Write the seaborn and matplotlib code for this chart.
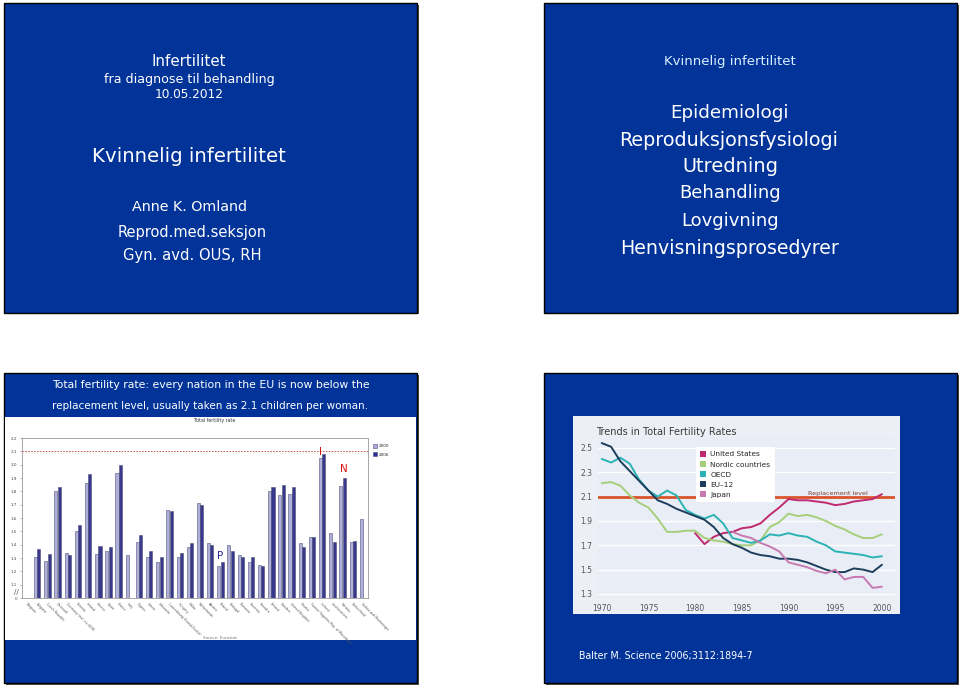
import numpy as np
import pandas as pd
import matplotlib
matplotlib.use("Agg")
import matplotlib.pyplot as plt
import seaborn as sns
from matplotlib.patches import Rectangle, Patch

sns.set_theme(style="white")
plt.rcParams["font.family"] = ["DejaVu Sans"]

# ---------------- data: bar chart (Eurostat total fertility rate) ----------------
countries = ["Belgium", "Bulgaria", "Czech Republic", "Denmark",
             "Germany (incl. ex-GDR)", "Estonia", "Ireland", "Greece",
             "Spain", "France", "Italy", "Cyprus", "Latvia", "Lithuania",
             "Luxembourg (Grand-Duché)", "Hungary", "Malta", "Netherlands", "Austria",
             "Poland", "Portugal", "Romania", "Slovenia", "Slovakia", "Finland",
             "Sweden", "United Kingdom", "Croatia",
             "Former Yugoslav Rep. of Macedonia", "Iceland", "Liechtenstein",
             "Norway", "Switzerland", "Serbia and Montenegro"]
tfr_2000 = [np.nan, 1.31, 1.28, 1.80, 1.34, 1.50, 1.86, 1.33, 1.35, 1.94, 1.32, 1.42,
            1.31, 1.27, 1.66, 1.31, 1.38, 1.71, 1.41, 1.24, 1.40, 1.32, 1.27, 1.25,
            1.80, 1.77, 1.78, 1.41, 1.46, 2.05, 1.49, 1.84, 1.42, 1.59]
tfr_2006 = [np.nan, 1.37, 1.33, 1.83, 1.32, 1.55, 1.93, 1.39, 1.38, 2.00, np.nan, 1.47,
            1.35, 1.31, 1.65, 1.34, 1.41, 1.70, 1.40, 1.27, 1.35, 1.31, 1.31, 1.24,
            1.83, 1.85, 1.83, 1.38, 1.46, 2.08, 1.42, 1.90, 1.43, np.nan]
bar_years = ["2000", "2006"]
bar_yticks = [1.0, 1.1, 1.2, 1.3, 1.4, 1.5, 1.6, 1.7, 1.8, 1.9, 2.0, 2.1, 2.2]
bar_yticklabels = ["0", "1.1", "1.2", "1.3", "1.4", "1.5", "1.6", "1.7", "1.8",
                   "1.9", "2.0", "2.1", "2.2"]
replacement = 2.1

# ---------------- data: line chart (Trends in Total Fertility Rates) ----------------
years = list(range(1970, 2001))
series_names = ["United States", "Nordic countries", "OECD", "EU\u201312", "Japan"]
us = [np.nan] * 10 + [1.80, 1.71, 1.77, 1.80, 1.81, 1.84, 1.85, 1.88, 1.95, 2.01, 2.08,
                      2.07, 2.07, 2.06, 2.05, 2.03, 2.04, 2.06, 2.07, 2.08, 2.12]
nordic = [2.21, 2.22, 2.19, 2.11, 2.05, 2.01, 1.92, 1.81, 1.81, 1.82, 1.82, 1.76, 1.74,
          1.73, 1.71, 1.70, 1.70, 1.74, 1.85, 1.89, 1.96, 1.94, 1.95, 1.93, 1.90, 1.86,
          1.83, 1.79, 1.76, 1.76, 1.79]
oecd = [2.41, 2.38, 2.42, 2.37, 2.24, 2.15, 2.10, 2.15, 2.11, 1.99, 1.95, 1.92, 1.95,
        1.88, 1.76, 1.74, 1.72, 1.74, 1.79, 1.78, 1.80, 1.78, 1.77, 1.73, 1.70, 1.65,
        1.64, 1.63, 1.62, 1.60, 1.61]
eu12 = [2.54, 2.51, 2.39, 2.31, 2.23, 2.15, 2.07, 2.04, 2.00, 1.97, 1.94, 1.91, 1.85,
        1.76, 1.71, 1.68, 1.64, 1.62, 1.61, 1.59, 1.59, 1.58, 1.56, 1.53, 1.50, 1.48,
        1.48, 1.51, 1.50, 1.48, 1.54]
japan = [np.nan] * 14 + [1.81, 1.78, 1.76, 1.72, 1.69, 1.65, 1.56, 1.54, 1.52, 1.49,
                         1.47, 1.50, 1.42, 1.44, 1.44, 1.35, 1.36]
line_xticks = [1970, 1975, 1980, 1985, 1990, 1995, 2000]
line_yticks = [1.3, 1.5, 1.7, 1.9, 2.1, 2.3, 2.5]

# ---------------- figure ----------------
W, H = 960, 686
fig = plt.figure(figsize=(W / 100, H / 100), dpi=100)
fig.patch.set_facecolor("white")
renderer = fig.canvas.get_renderer()


def fx(x):
    return x / W


def fy(y):
    return 1 - y / H


def rect(x0, y0, x1, y1, fc, ec="none", lw=0.0, z=-10):
    r = Rectangle((fx(x0), fy(y1)), (x1 - x0) / W, (y1 - y0) / H,
                  transform=fig.transFigure, facecolor=fc, edgecolor=ec,
                  linewidth=lw, zorder=z)
    fig.add_artist(r)


def fit(t, width):
    t.set_fontsize(10)
    w = t.get_window_extent(renderer).width
    t.set_fontsize(10 * width / w)
    return t


def ftext(s, x, y, width, ha="center", color="white", **kw):
    t = fig.text(fx(x), fy(y), s, ha=ha, va="center", color=color, **kw)
    return fit(t, width)


BLUE = "#013399"
for (x0, y0, x1, y1) in [(4, 3, 417, 313), (544, 3, 957, 313),
                         (4, 373, 417, 683), (544, 373, 957, 683)]:
    rect(x0 + 1.5, y0 + 1.5, x1 + 1.5, y1 + 1.5, "#555555", z=-12)
    rect(x0, y0, x1, y1, BLUE, "black", 1.0, z=-11)
rect(5, 417, 416, 640, "white", z=-9)
rect(573, 416, 900, 614, "#ecf0f6", z=-9)

# ---- slide 1 ----
ftext("Infertilitet", 189, 62, 74)
ftext("fra diagnose til behandling", 189, 79, 169)
ftext("10.05.2012", 189, 94, 69)
ftext("Kvinnelig infertilitet", 189, 156, 194)
ftext("Anne K. Omland", 189, 207, 115)
ftext("Reprod.med.seksjon", 192, 233, 149)
ftext("Gyn. avd. OUS, RH", 192, 256, 138)

# ---- slide 2 ----
ftext("Kvinnelig infertilitet", 730, 61, 130, color="#d8f0ff")
ftext("Epidemiologi", 729, 113, 119)
ftext("Reproduksjonsfysiologi", 729, 140, 220)
ftext("Utredning", 730, 167, 96)
ftext("Behandling", 730, 193, 102)
ftext("Lovgivning", 730, 221, 98)
ftext("Henvisningsprosedyrer", 729, 248, 219)

# ---- slide 3 header ----
ftext("Total fertility rate: every nation in the EU is now below the", 211, 385, 318)
ftext("replacement level, usually taken as 2.1 children per woman.", 210, 406, 314)

# ---- slide 4 footer ----
ftext("Balter M. Science 2006;3112:1894-7", 579, 656, 174, ha="left")

# ---------------- bar chart ----------------
LIGHT, DARK = "#a9aae0", "#2a2c9a"
n = len(countries)
df_bar = pd.DataFrame({
    "country": countries * 2,
    "year": [bar_years[0]] * n + [bar_years[1]] * n,
    "tfr": tfr_2000 + tfr_2006,
}).dropna()
ax1 = fig.add_axes([fx(22), fy(598), 346 / W, 160 / H])
sns.barplot(data=df_bar, x="country", y="tfr", hue="year", order=countries,
            hue_order=bar_years, palette=[LIGHT, DARK], width=0.66, gap=0.08,
            errorbar=None, edgecolor="#505078", linewidth=0.4, legend=False, ax=ax1)
ax1.set_xlim(-0.5, n - 0.5)
ax1.set_ylim(bar_yticks[0], bar_yticks[-1])
ax1.set_yticks(bar_yticks)
ax1.set_yticklabels(bar_yticklabels)
ax1.set_xticks(range(n))
ax1.set_xticklabels(countries, rotation=-45, ha="left", rotation_mode="anchor")
ax1.tick_params(axis="x", labelsize=2.3, labelcolor="#555555", length=0, pad=3)
ax1.tick_params(axis="y", labelsize=3, labelcolor="#444444", length=1.5, width=0.4,
                color="#777777", pad=2, left=True)
ax1.set_xlabel("")
ax1.set_ylabel("")
ax1.set_facecolor("white")
for sp in ax1.spines.values():
    sp.set_color("#999999")
    sp.set_linewidth(0.6)
ax1.axhline(replacement, color="#c05050", ls=(0, (1.5, 1.5)), lw=0.7, zorder=0.5)
ax1.text(-0.015, 0.04, "//", transform=ax1.transAxes, fontsize=5, color="#555555",
         ha="center", va="center")
ax1.text(28.83, 2.095, "I", color="#e01010", fontsize=7.5, ha="center", va="center")
ax1.text(31.15, 1.97, "N", color="#e01010", fontsize=7.5, ha="center", va="center")
ax1.text(19.0, 1.315, "P", color="#2a2a8a", fontsize=7.5, ha="center", va="center")
ax1.legend(handles=[Patch(facecolor=LIGHT, edgecolor="#505078", lw=0.4),
                    Patch(facecolor=DARK, edgecolor="#505078", lw=0.4)],
           labels=bar_years, loc="upper left", bbox_to_anchor=(1.008, 0.975),
           bbox_transform=ax1.transAxes, fontsize=3, frameon=False,
           handlelength=0.9, handleheight=0.9, labelspacing=1.0, handletextpad=0.6,
           borderpad=0)
fig.text(fx(215), fy(421), "Total fertility rate", ha="center", va="center",
         fontsize=3.4, color="#333333")
fig.text(fx(203), fy(638), "Source: Eurostat", ha="left", va="center",
         fontsize=3, color="#777777")

# ---------------- line chart ----------------
line_colors = ["#c02a6e", "#a6cf7c", "#2bb3b6", "#1c3d5c", "#c77ab2"]
df_line = pd.DataFrame({
    "year": years * 5,
    "tfr": us + nordic + oecd + eu12 + japan,
    "series": sum([[s] * len(years) for s in series_names], []),
}).dropna()
ax2 = fig.add_axes([fx(598), fy(598), 297 / W, 161 / H])
ax2.set_facecolor("#e9edf5")
ax2.axhline(replacement, color="#d9542c", lw=2.0, zorder=1)
sns.lineplot(data=df_line, x="year", y="tfr", hue="series", hue_order=series_names,
             palette=line_colors, linewidth=1.4, estimator=None, legend=False,
             ax=ax2, zorder=3)
ax2.set_xlim(1969.6, 2001.4)
ax2.set_ylim(1.267, 2.59)
ax2.set_xticks(line_xticks)
ax2.set_yticks(line_yticks)
ax2.set_yticklabels([f"{v:.1f}" for v in line_yticks])
ax2.grid(axis="y", color="white", lw=1.0, zorder=0)
ax2.set_axisbelow(True)
for sp in ax2.spines.values():
    sp.set_visible(False)
ax2.tick_params(axis="both", length=0, labelsize=5.5, labelcolor="#555555")
ax2.tick_params(axis="y", pad=4)
ax2.tick_params(axis="x", pad=4)
ax2.set_xlabel("")
ax2.set_ylabel("")
fit(ax2.text(1995.3, 2.128, "Replacement level", ha="center", va="center",
             color="#7a3f30"), 59)
ftext("Trends in Total Fertility Rates", 596, 432, 140, ha="left", color="#3a3a3a")
ax2.legend(handles=[Patch(facecolor=c, edgecolor="none") for c in line_colors],
           labels=series_names, loc="upper left",
           bbox_to_anchor=((692 - 598) / 297, (598 - 443) / 161),
           bbox_transform=ax2.transAxes, fontsize=5.3, frameon=True,
           facecolor="white", edgecolor="none", fancybox=True, framealpha=1,
           handlelength=0.8, handleheight=0.8, labelspacing=0.5,
           handletextpad=0.6, borderpad=0.6)

fig.savefig("out.png", dpi=100)
